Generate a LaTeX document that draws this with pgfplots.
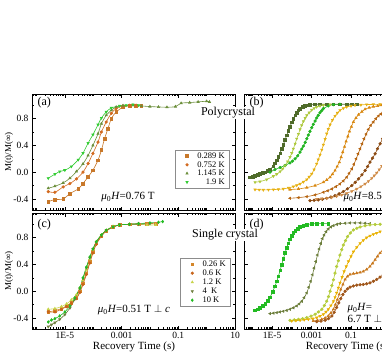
\documentclass[border=0pt]{standalone}
\usepackage{fontspec}
\setmainfont{Liberation Serif}
\usepackage{pgfplots}
\pgfplotsset{compat=1.18}

\definecolor{aA}{HTML}{C8782A}
\definecolor{aB}{HTML}{D2691E}
\definecolor{aC}{HTML}{6B8E3A}
\definecolor{aD}{HTML}{33CC33}
\definecolor{bA}{HTML}{4F6B2A}
\definecolor{bB}{HTML}{22B422}
\definecolor{bC}{HTML}{ADC83C}
\definecolor{bD}{HTML}{E6B012}
\definecolor{bE}{HTML}{D8870F}
\definecolor{bF}{HTML}{B5630E}
\definecolor{bG}{HTML}{8B4A12}
\definecolor{bH}{HTML}{CF8A45}
\definecolor{cA}{HTML}{D4862A}
\definecolor{cB}{HTML}{C8641A}
\definecolor{cC}{HTML}{C8D44A}
\definecolor{cD}{HTML}{6E7D3C}
\definecolor{cE}{HTML}{22BB22}
\definecolor{dA}{HTML}{22BB22}
\definecolor{dB}{HTML}{6B7D3A}
\definecolor{dC}{HTML}{B4CC3C}
\definecolor{dD}{HTML}{E8B000}
\definecolor{dE}{HTML}{C8781E}
\definecolor{dF}{HTML}{A0561A}

\gdef\logminor{-99}
\foreach \d in {-7,...,4}{\foreach \m in {0,0.30103,0.47712,0.60206,0.69897,0.77815,0.84510,0.90309,0.95424}{\pgfmathparse{\d+\m}\xdef\logminor{\logminor,\pgfmathresult}}}

\newcommand\muH{\textit{μ}\textsubscript{0}\textit{H}}

\pgfplotsset{
  panel/.style={scale only axis, height=116pt,
    axis line style={line width=0.7pt}, every tick/.style={black, line width=0.5pt},
    major tick length=3.5pt, minor tick length=2pt, tick align=inside,
    ymin=-0.565, ymax=1.168, ytick={-0.4,0,0.4,0.8}, minor ytick={-0.2,0.2,0.6,1.0},
    tick label style={font=\fontsize{9.5}{10}\selectfont},
    /pgf/number format/assume math mode=true,
    legend image code/.code={\path (0pt,0pt) (18pt,0pt); \draw[##1, sharp plot] plot coordinates {(9pt,0pt)};},
  },
  leftp/.style={width=203pt, xmin=-6.158, xmax=1, xtick={-5,-3,-1,1}, minor xtick/.expanded=\logminor},
  rightp/.style={width=205.8pt, xmin=-6.418, xmax=4, xtick={-5,-3,-1,1,3}, minor xtick/.expanded=\logminor, yticklabels={}},
  ser/.style n args={3}{color=#1, mark=#2, mark size=1.3pt, line width=0.6pt, smooth, tension=0.5, mark options={solid, fill=#1, #3}},
}

\begin{document}
\begin{tikzpicture}[x=1pt,y=1pt]
\useasboundingbox (0pt,0pt) rectangle (382pt,354pt);
\clip (0pt,0pt) rectangle (382pt,354pt);

% ---------- (a)
\begin{axis}[panel, leftp, at={(32pt,144pt)}, anchor=south west, xticklabels={}, yticklabels={-0.4,0.0,0.4,0.8},
  legend cell align=right,
  legend style={at={(0.97,0.517)}, anchor=north east, draw=black!45, line width=0.4pt,
    font=\fontsize{8.5}{8.5}\selectfont, inner xsep=3pt, inner ysep=1.5pt, row sep=0pt,
    nodes={inner sep=1pt, text height=5.6pt, text depth=1.1pt}}]
\addplot[ser={aA}{square*}{}] coordinates {(-5.585,-0.44) (-5.35,-0.41) (-5.06,-0.40) (-4.82,-0.32) (-4.53,-0.25) (-4.36,-0.17) (-4.18,-0.07) (-4.01,0.03) (-3.83,0.18) (-3.71,0.33) (-3.60,0.50) (-3.48,0.65) (-3.36,0.80) (-3.19,0.90) (-2.95,0.97) (-2.72,0.99) (-2.49,0.99) (-2.3,0.99)};
\addlegendentry{0.289 K}
\addplot[ser={aB}{*}{}] coordinates {(-5.585,-0.29) (-5.35,-0.30) (-5.06,-0.22) (-4.82,-0.17) (-4.59,-0.10) (-4.36,0.0) (-4.18,0.13) (-4.01,0.28) (-3.83,0.45) (-3.71,0.60) (-3.54,0.75) (-3.36,0.88) (-3.19,0.95) (-2.95,0.99) (-2.72,1.0) (-2.49,1.0)};
\addlegendentry{0.752 K}
\addplot[ser={aC}{triangle*}{}] coordinates {(-5.585,-0.24) (-5.35,-0.21) (-5.06,-0.16) (-4.82,-0.09) (-4.59,0.01) (-4.36,0.125) (-4.18,0.25) (-4.01,0.40) (-3.83,0.575) (-3.71,0.725) (-3.54,0.85) (-3.36,0.925) (-3.19,0.975) (-2.95,0.995) (-2.6,1.0) (-2.3,0.99) (-2.0,0.98) (-1.7,0.975) (-1.4,0.97) (-1.1,0.98) (-0.9,1.03) (-0.6,1.04) (-0.3,1.05) (0.0,1.06) (0.1,1.05)};
\addlegendentry{1.145 K}
\addplot[ser={aD}{triangle*}{rotate=180}] coordinates {(-5.585,-0.09) (-5.35,-0.03) (-5.18,0.01) (-5.0,0.03) (-4.77,0.085) (-4.53,0.185) (-4.36,0.285) (-4.18,0.435) (-4.01,0.56) (-3.83,0.71) (-3.71,0.81) (-3.54,0.90) (-3.36,0.96) (-3.07,0.99) (-2.84,1.0) (-2.6,1.01) (-2.4,1.0)};
\addlegendentry{1.9 K}
\end{axis}

% ---------- (b)
\begin{axis}[panel, rightp, at={(244pt,144pt)}, anchor=south west, xticklabels={}]
\addplot[ser={bA}{square*}{}] coordinates {(-6.11,-0.075) (-5.98,-0.065) (-5.86,-0.05) (-5.73,-0.04) (-5.61,-0.025) (-5.48,-0.012) (-5.35,0.0) (-5.22,0.018) (-5.10,0.04) (-4.93,0.09) (-4.85,0.13) (-4.76,0.175) (-4.68,0.23) (-4.59,0.285) (-4.51,0.35) (-4.43,0.41) (-4.34,0.48) (-4.26,0.55) (-4.17,0.62) (-4.09,0.68) (-4.0,0.745) (-3.92,0.80) (-3.83,0.85) (-3.75,0.89) (-3.66,0.925) (-3.58,0.95) (-3.45,0.975) (-3.33,0.99) (-3.2,1.0) (-3.08,1.01) (-2.82,1.015) (-2.57,1.015) (-2.23,1.015) (-1.89,1.015) (-1.56,1.015) (-1.22,1.015) (-0.96,1.015) (-0.71,1.015)};
\addplot[ser={bB}{*}{}] coordinates {(-5.10,0.0) (-4.85,0.04) (-4.59,0.07) (-4.34,0.10) (-4.09,0.14) (-3.96,0.165) (-3.83,0.20) (-3.70,0.245) (-3.58,0.30) (-3.50,0.345) (-3.41,0.39) (-3.32,0.445) (-3.24,0.50) (-3.16,0.555) (-3.08,0.61) (-2.99,0.665) (-2.91,0.715) (-2.82,0.765) (-2.74,0.81) (-2.66,0.85) (-2.57,0.89) (-2.48,0.92) (-2.40,0.95) (-2.15,0.99) (-1.89,1.01) (-1.56,1.015)};
\addplot[ser={bC}{triangle*}{rotate=180}] coordinates {(-5.86,-0.15) (-5.61,-0.14) (-5.27,-0.11) (-4.93,-0.06) (-4.76,-0.03) (-4.59,0.01) (-4.46,0.05) (-4.34,0.10) (-4.21,0.16) (-4.09,0.225) (-4.0,0.285) (-3.92,0.35) (-3.83,0.425) (-3.75,0.50) (-3.66,0.57) (-3.58,0.64) (-3.50,0.70) (-3.41,0.76) (-3.32,0.81) (-3.24,0.85) (-3.12,0.89) (-2.99,0.93) (-2.87,0.955) (-2.74,0.975) (-2.57,0.99) (-2.40,1.0) (-2.06,1.01)};
\addplot[ser={bD}{triangle*}{rotate=180}] coordinates {(-5.86,-0.26) (-5.65,-0.262) (-5.44,-0.265) (-5.18,-0.262) (-4.93,-0.26) (-4.68,-0.256) (-4.43,-0.25) (-4.17,-0.235) (-3.92,-0.215) (-3.75,-0.197) (-3.58,-0.175) (-3.41,-0.145) (-3.24,-0.11) (-3.12,-0.07) (-2.99,-0.025) (-2.87,0.04) (-2.74,0.125) (-2.66,0.19) (-2.57,0.26) (-2.48,0.335) (-2.40,0.41) (-2.31,0.495) (-2.23,0.575) (-2.15,0.645) (-2.06,0.71) (-1.94,0.78) (-1.81,0.84) (-1.69,0.885) (-1.56,0.925) (-1.39,0.955) (-1.22,0.975) (-1.0,0.99) (-0.80,1.0) (-0.5,1.005) (-0.21,1.01) (0.13,1.012) (0.47,1.015)};
\addplot[ser={bE}{triangle*}{}] coordinates {(-4.09,-0.26) (-3.66,-0.25) (-3.24,-0.23) (-2.82,-0.20) (-2.40,-0.15) (-2.23,-0.115) (-2.06,-0.075) (-1.94,-0.03) (-1.81,0.025) (-1.70,0.085) (-1.59,0.15) (-1.50,0.225) (-1.42,0.30) (-1.33,0.38) (-1.25,0.46) (-1.16,0.535) (-1.08,0.61) (-0.98,0.68) (-0.88,0.75) (-0.75,0.81) (-0.62,0.86) (-0.45,0.905) (-0.29,0.94) (-0.08,0.965) (0.13,0.98) (0.35,0.99) (0.56,1.0)};
\addplot[ser={bF}{triangle*}{rotate=90}] coordinates {(-4.09,-0.39) (-3.66,-0.38) (-3.24,-0.365) (-2.82,-0.34) (-2.40,-0.30) (-2.18,-0.277) (-1.97,-0.25) (-1.76,-0.215) (-1.56,-0.175) (-1.39,-0.13) (-1.22,-0.075) (-1.09,-0.015) (-0.96,0.05) (-0.85,0.12) (-0.74,0.20) (-0.64,0.275) (-0.54,0.35) (-0.44,0.425) (-0.34,0.50) (-0.23,0.57) (-0.12,0.64) (0.0,0.70) (0.13,0.75) (0.26,0.80) (0.39,0.84) (0.51,0.87) (0.64,0.90)};
\addplot[ser={bG}{*}{}] coordinates {(-3.08,-0.425) (-2.87,-0.42) (-2.66,-0.415) (-2.45,-0.405) (-2.23,-0.39) (-2.02,-0.372) (-1.81,-0.35) (-1.60,-0.322) (-1.39,-0.29) (-1.18,-0.248) (-0.96,-0.20) (-0.79,-0.152) (-0.62,-0.10) (-0.45,-0.04) (-0.29,0.025) (-0.16,0.085) (-0.04,0.15) (0.09,0.21) (0.22,0.275) (0.34,0.35) (0.47,0.425) (0.60,0.50) (0.73,0.575)};
\addplot[ser={bH}{triangle*}{rotate=180}] coordinates {(-2.74,-0.40) (-2.48,-0.395) (-2.23,-0.39) (-1.98,-0.377) (-1.73,-0.36) (-1.47,-0.34) (-1.22,-0.315) (-0.96,-0.285) (-0.71,-0.25) (-0.50,-0.215) (-0.29,-0.175) (-0.12,-0.135) (0.05,-0.09) (0.18,-0.05) (0.30,-0.01) (0.43,0.04) (0.56,0.09) (0.81,0.20)};
\end{axis}

% ---------- (c)
\begin{axis}[panel, leftp, at={(32pt,25pt)}, anchor=south west, xticklabels={1E-5,0.001,0.1,10}, yticklabels={-0.4,0.0,0.4,0.8},
  legend cell align=left,
  legend style={at={(0.975,0.612)}, anchor=north east, draw=black!45, line width=0.4pt,
    font=\fontsize{8.5}{8.5}\selectfont, inner xsep=3pt, inner ysep=1.5pt, row sep=0pt,
    nodes={inner sep=1pt, text height=5.8pt, text depth=1.2pt}}]
\addplot[ser={cA}{square*}{}] coordinates {(-5.585,-0.31) (-5.35,-0.29) (-5.12,-0.26) (-4.94,-0.22) (-4.77,-0.17) (-4.59,-0.10) (-4.47,0.0) (-4.36,0.12) (-4.24,0.27) (-4.12,0.44) (-4.01,0.59) (-3.89,0.72) (-3.71,0.83) (-3.54,0.90) (-3.30,0.96) (-3.07,0.99) (-2.72,1.0) (-2.4,1.0) (-2.1,1.01) (-1.8,1.01)};
\addlegendentry{0.26 K}
\addplot[ser={cB}{*}{}] coordinates {(-5.585,-0.31) (-5.35,-0.31) (-5.12,-0.27) (-4.94,-0.23) (-4.77,-0.18) (-4.59,-0.11) (-4.47,-0.02) (-4.36,0.10) (-4.24,0.25) (-4.12,0.42) (-4.01,0.57) (-3.89,0.70) (-3.71,0.82) (-3.54,0.90) (-3.30,0.96) (-3.07,0.99) (-2.72,1.0) (-2.4,1.01)};
\addlegendentry{0.6 K}
\addplot[ser={cC}{triangle*}{}] coordinates {(-5.585,-0.27) (-5.35,-0.26) (-5.12,-0.23) (-4.94,-0.19) (-4.77,-0.13) (-4.59,-0.05) (-4.47,0.05) (-4.36,0.17) (-4.24,0.32) (-4.12,0.48) (-4.01,0.62) (-3.89,0.74) (-3.71,0.84) (-3.54,0.91) (-3.30,0.97) (-3.07,0.99) (-2.72,1.0) (-2.4,1.0) (-2.1,0.99) (-1.8,0.99)};
\addlegendentry{1.2 K}
\addplot[ser={cD}{triangle*}{rotate=180}] coordinates {(-5.585,-0.53) (-5.47,-0.50) (-5.35,-0.47) (-5.18,-0.42) (-5.0,-0.35) (-4.82,-0.25) (-4.65,-0.12) (-4.47,0.04) (-4.36,0.19) (-4.24,0.35) (-4.12,0.50) (-4.01,0.63) (-3.89,0.73) (-3.71,0.84) (-3.54,0.91) (-3.30,0.96) (-3.07,0.99) (-2.72,1.0) (-2.4,1.0) (-2.0,1.01)};
\addlegendentry{4\ \ K}
\addplot[ser={cE}{diamond*}{}] coordinates {(-5.585,-0.46) (-5.47,-0.43) (-5.35,-0.41) (-5.18,-0.37) (-5.0,-0.31) (-4.82,-0.22) (-4.65,-0.10) (-4.47,0.05) (-4.36,0.20) (-4.24,0.36) (-4.12,0.51) (-4.01,0.63) (-3.89,0.74) (-3.71,0.84) (-3.54,0.91) (-3.30,0.96) (-3.07,0.99) (-2.72,1.0) (-2.4,1.01) (-2.0,1.02) (-1.7,1.03) (-1.55,1.04)};
\addlegendentry{10 K}
\end{axis}

% ---------- (d)
\begin{axis}[panel, rightp, at={(244pt,25pt)}, anchor=south west, xticklabels={1E-5,0.001,0.1,10,1000}]
\addplot[ser={dA}{square*}{}] coordinates {(-5.86,-0.285) (-5.73,-0.268) (-5.61,-0.245) (-5.48,-0.22) (-5.35,-0.19) (-5.22,-0.145) (-5.10,-0.09) (-4.97,-0.01) (-4.85,0.075) (-4.76,0.145) (-4.68,0.22) (-4.59,0.31) (-4.51,0.395) (-4.43,0.48) (-4.34,0.57) (-4.26,0.645) (-4.17,0.715) (-4.09,0.775) (-4.0,0.83) (-3.92,0.87) (-3.83,0.90) (-3.70,0.935) (-3.58,0.96) (-3.41,0.98) (-3.24,0.995) (-3.0,1.005) (-2.74,1.01) (-2.45,1.01) (-2.15,1.01)};
\addplot[ser={dB}{triangle*}{rotate=90}] coordinates {(-5.10,-0.335) (-4.93,-0.328) (-4.76,-0.32) (-4.60,-0.31) (-4.43,-0.30) (-4.26,-0.287) (-4.09,-0.27) (-3.92,-0.248) (-3.75,-0.22) (-3.62,-0.19) (-3.49,-0.15) (-3.37,-0.095) (-3.24,-0.025) (-3.14,0.06) (-3.04,0.15) (-2.95,0.245) (-2.87,0.345) (-2.78,0.445) (-2.70,0.54) (-2.61,0.63) (-2.53,0.715) (-2.45,0.785) (-2.36,0.84) (-2.26,0.89) (-2.15,0.93) (-2.02,0.96) (-1.89,0.98) (-1.72,0.998) (-1.56,1.01) (-1.30,1.015) (-1.05,1.02) (-0.80,1.02) (-0.54,1.02) (-0.29,1.015) (-0.04,1.01)};
\addplot[ser={dC}{*}{}] coordinates {(-4.09,-0.435) (-3.87,-0.428) (-3.66,-0.42) (-3.45,-0.41) (-3.24,-0.395) (-3.03,-0.373) (-2.82,-0.345) (-2.65,-0.31) (-2.48,-0.27) (-2.35,-0.215) (-2.23,-0.15) (-2.14,-0.08) (-2.06,0.0) (-1.97,0.085) (-1.89,0.17) (-1.81,0.27) (-1.73,0.37) (-1.64,0.455) (-1.56,0.54) (-1.47,0.62) (-1.39,0.69) (-1.28,0.755) (-1.18,0.815) (-1.03,0.87) (-0.88,0.915) (-0.71,0.94) (-0.54,0.96) (-0.29,0.978) (-0.04,0.99) (0.22,0.995) (0.47,1.0)};
\addplot[ser={dD}{triangle*}{rotate=180}] coordinates {(-4.0,-0.445) (-3.79,-0.44) (-3.58,-0.435) (-3.37,-0.428) (-3.16,-0.42) (-2.95,-0.41) (-2.74,-0.395) (-2.57,-0.372) (-2.40,-0.345) (-2.27,-0.31) (-2.15,-0.27) (-2.02,-0.215) (-1.89,-0.15) (-1.81,-0.09) (-1.73,-0.025) (-1.64,0.05) (-1.56,0.125) (-1.45,0.21) (-1.35,0.295) (-1.24,0.37) (-1.13,0.445) (-1.0,0.52) (-0.88,0.59) (-0.71,0.655) (-0.54,0.715) (-0.38,0.76) (-0.21,0.80) (-0.04,0.828) (0.13,0.85) (0.30,0.87) (0.47,0.89)};
\addplot[ser={dE}{triangle*}{}] coordinates {(-2.91,-0.445) (-2.70,-0.435) (-2.48,-0.42) (-2.31,-0.4) (-2.15,-0.37) (-2.02,-0.325) (-1.89,-0.27) (-1.79,-0.2) (-1.69,-0.125) (-1.60,-0.05) (-1.52,0.025) (-1.41,0.1) (-1.30,0.175) (-1.18,0.22) (-1.05,0.25) (-0.88,0.262) (-0.71,0.27) (-0.54,0.28) (-0.38,0.295) (-0.21,0.325) (-0.04,0.37) (0.09,0.415) (0.22,0.47) (0.34,0.52) (0.47,0.57) (0.60,0.605) (0.73,0.64)};
\addplot[ser={dF}{*}{}] coordinates {(-2.74,-0.455) (-2.52,-0.447) (-2.31,-0.435) (-2.14,-0.41) (-1.97,-0.37) (-1.85,-0.315) (-1.73,-0.245) (-1.62,-0.175) (-1.52,-0.11) (-1.41,-0.05) (-1.30,0.0) (-1.18,0.035) (-1.05,0.06) (-0.88,0.078) (-0.71,0.09) (-0.54,0.096) (-0.38,0.10) (-0.21,0.11) (-0.04,0.125) (0.13,0.148) (0.30,0.175) (0.47,0.21) (0.64,0.25)};
\end{axis}

% ---------- texts
\node[anchor=west, font=\fontsize{12}{12}\selectfont] at (34pt,251pt) {(a)};
\node[anchor=west, font=\fontsize{12}{12}\selectfont] at (246pt,251pt) {(b)};
\node[anchor=west, font=\fontsize{12}{12}\selectfont] at (34pt,129pt) {(c)};
\node[anchor=west, font=\fontsize{12}{12}\selectfont] at (246pt,129pt) {(d)};
\node[fill=white, inner sep=0.5pt, font=\fontsize{12}{12}\selectfont] at (228pt,241pt) {Polycrystal};
\node[fill=white, inner sep=0.5pt, font=\fontsize{12}{12}\selectfont] at (225pt,119pt) {Single crystal};
\node[font=\fontsize{11}{11}\selectfont] at (128pt,157pt) {\muH=0.76 T};
\node[font=\fontsize{11}{11}\selectfont] at (134pt,44pt) {\muH=0.51 T $\perp$ \textit{c}};
\node[anchor=west, font=\fontsize{11}{11}\selectfont] at (340pt,157pt) {\muH=8.5 T};
\node[anchor=west, font=\fontsize{11}{11}\selectfont] at (344pt,46pt) {\muH=};
\node[anchor=west, font=\fontsize{11}{11}\selectfont] at (344pt,35pt) {6.7 T $\perp$ \textit{c}};
\node[rotate=90, font=\fontsize{9}{9}\selectfont] at (9pt,202pt) {M(t)/M(∞)};
\node[rotate=90, font=\fontsize{9}{9}\selectfont] at (9pt,83pt) {M(t)/M(∞)};
\node[font=\fontsize{11}{11}\selectfont] at (134pt,7pt) {Recovery Time (s)};
\node[font=\fontsize{11}{11}\selectfont] at (347pt,7pt) {Recovery Time (s)};
\end{tikzpicture}
\end{document}
